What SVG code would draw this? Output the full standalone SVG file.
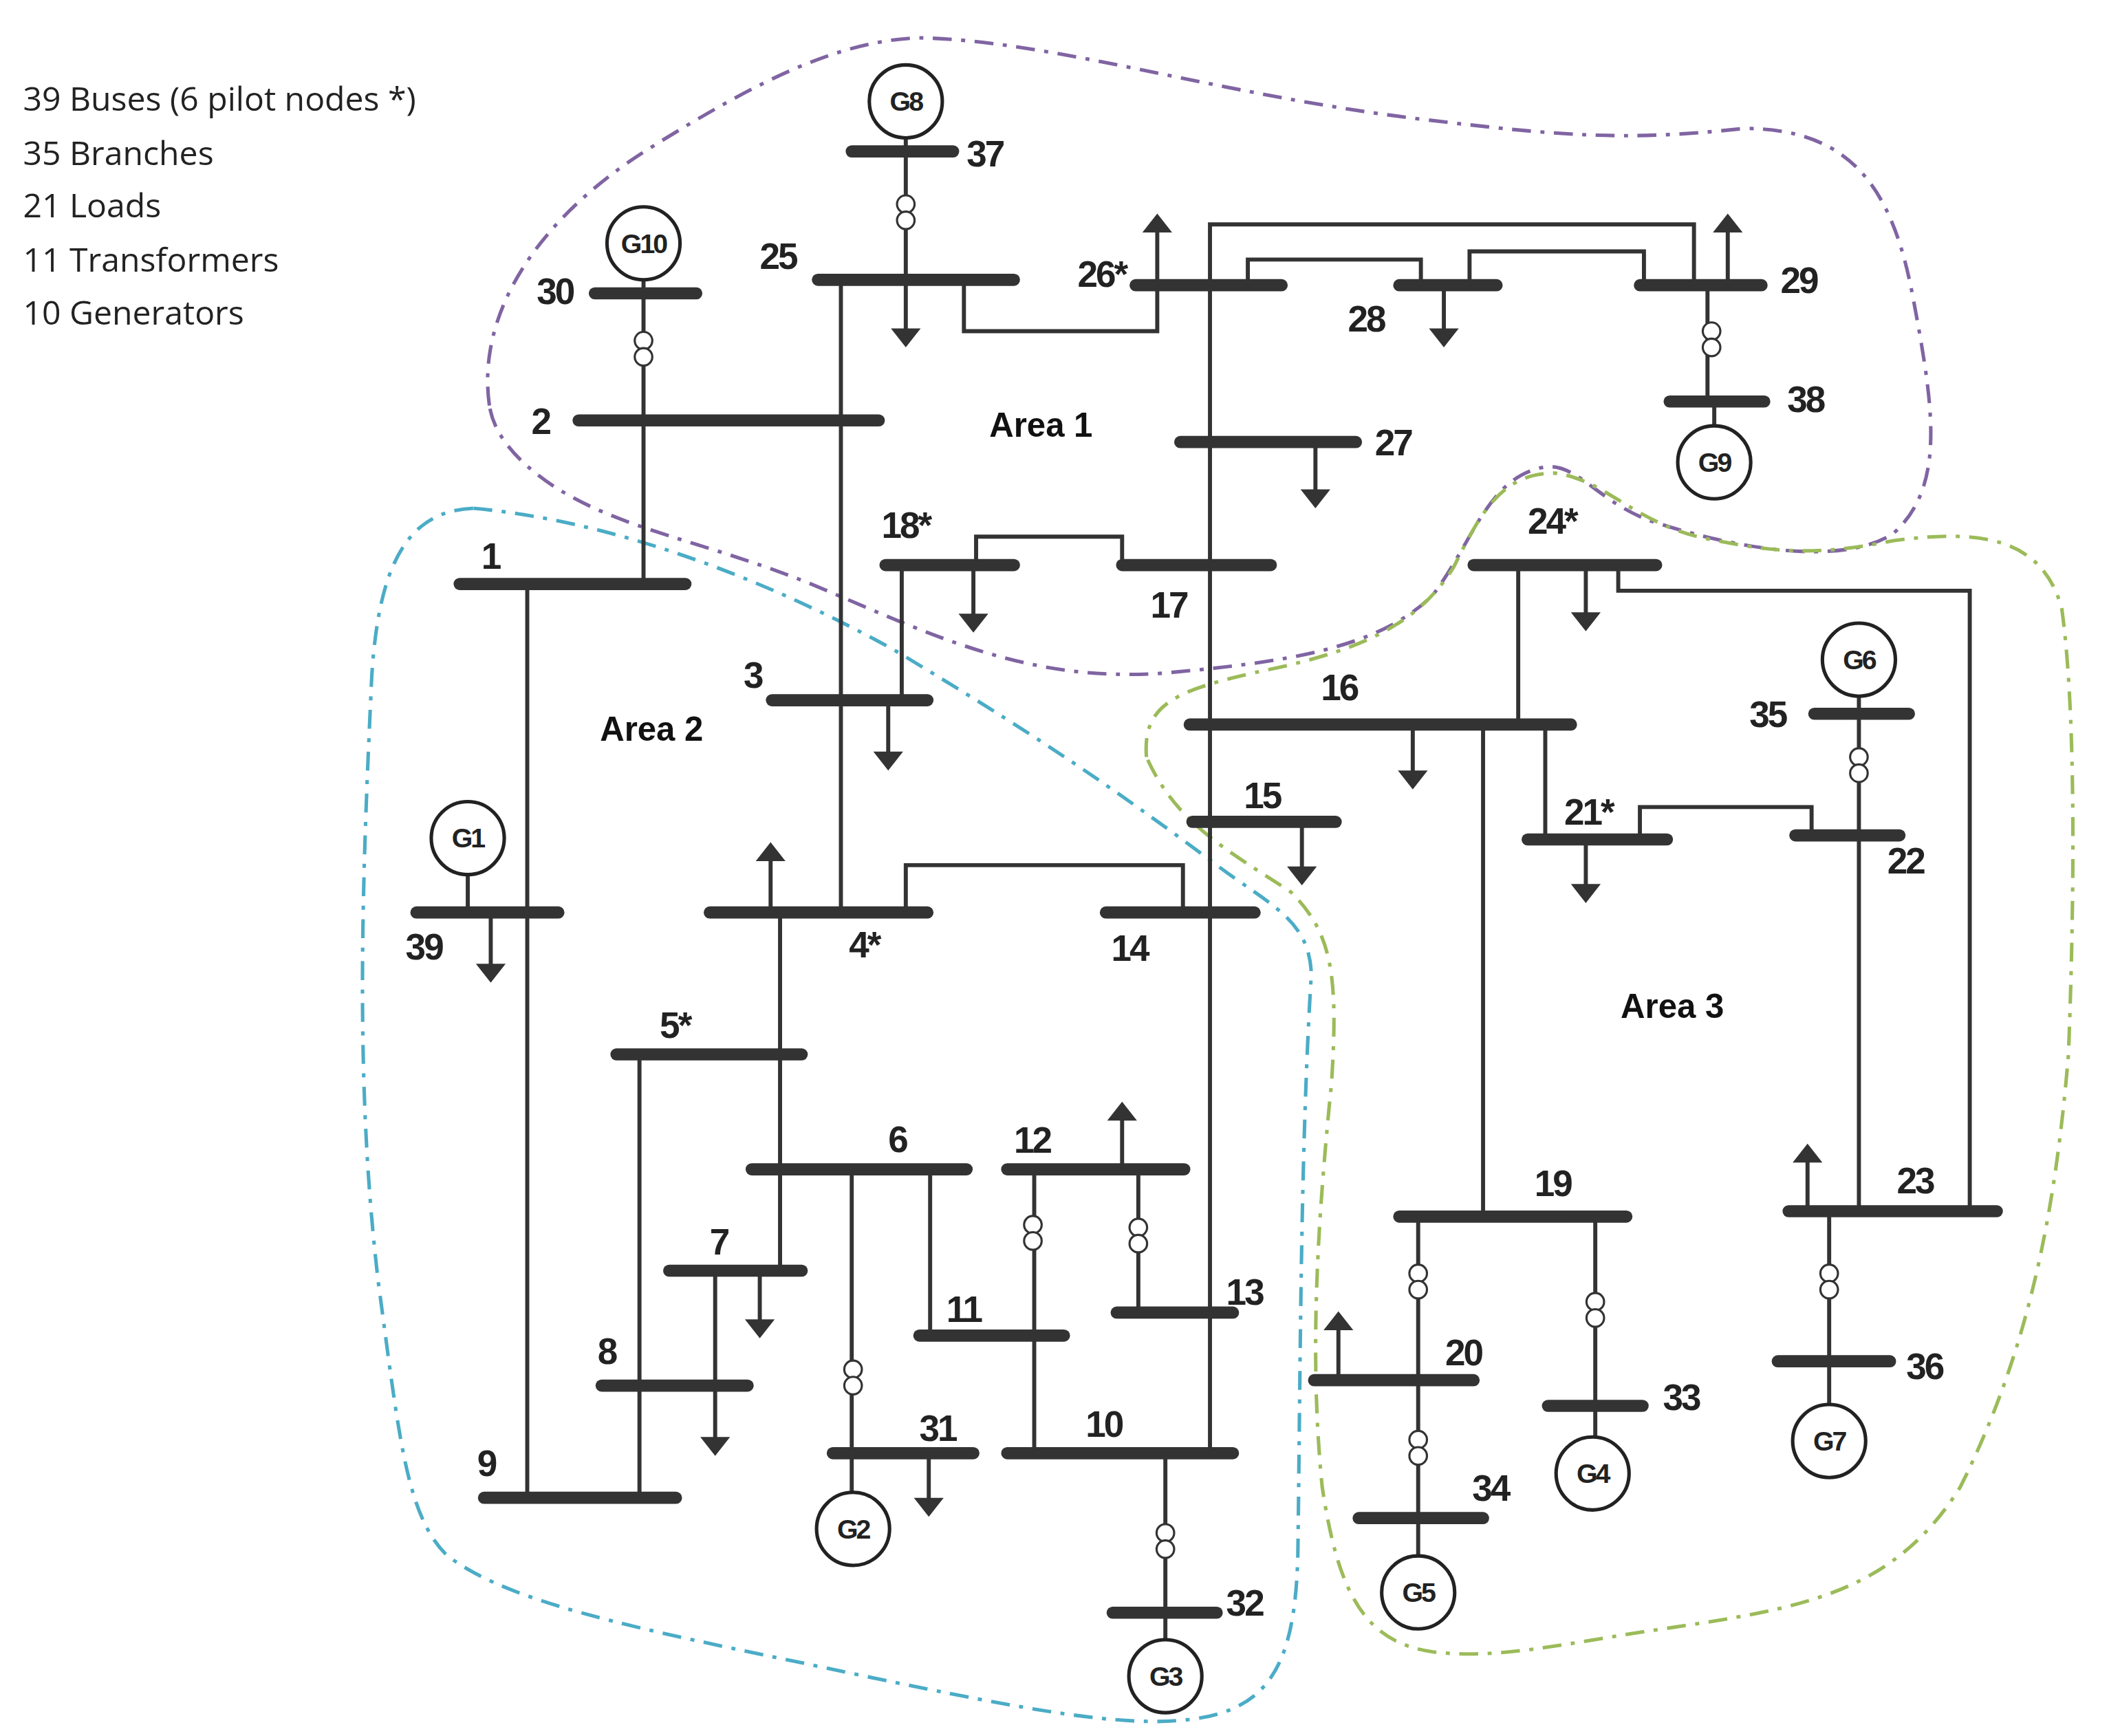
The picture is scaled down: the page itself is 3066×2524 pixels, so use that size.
<svg xmlns="http://www.w3.org/2000/svg" width="3066" height="2524" viewBox="0 0 3066 2524">
<style>
.bus{stroke:#333;stroke-width:9;stroke-linecap:round;fill:none}
.ln{stroke:#333;stroke-width:3;fill:none}
.ar{fill:#333}
.tr{stroke:#333;stroke-width:1.6;fill:#fff}
.gen{stroke:#222;stroke-width:2.6;fill:#fff}
.bl{font-family:"Liberation Sans",Arial,sans-serif;font-weight:bold;font-size:27px;fill:#222;letter-spacing:-1.5px}
.gl{font-family:"Liberation Sans",Arial,sans-serif;font-weight:bold;font-size:20px;fill:#222;text-anchor:middle;letter-spacing:-1.5px}
.al{font-family:"Liberation Sans",Arial,sans-serif;font-weight:bold;font-size:25px;fill:#111;text-anchor:middle}
.info{font-family:"Open Sans","Liberation Sans",sans-serif;font-size:24.5px;fill:#222}
.area{fill:none;stroke-width:2.6;stroke-dasharray:14 7 3 7}
</style>
<rect width="3066" height="2524" fill="#fff"/>
<g transform="scale(1.9654)">
<g id="info">
<text class="info" x="17" y="82">39 Buses (6 pilot nodes *)</text>
<text class="info" x="17" y="122">35 Branches</text>
<text class="info" x="17" y="161">21 Loads</text>
<text class="info" x="17" y="201">11 Transformers</text>
<text class="info" x="17" y="240">10 Generators</text>
</g>
<g id="areas">
<path id="area1" class="area" stroke="#8064a2" d="M362,300 C352,230 400,160 480,110 C560,60 620,30 680,28 C780,30 900,70 1050,88 C1150,100 1200,105 1290,95 C1370,95 1400,140 1415,220 C1430,300 1440,360 1400,395 C1360,420 1280,405 1220,385 C1180,370 1165,340 1140,346 C1100,355 1090,400 1060,440 C1020,480 950,490 860,498 C760,505 690,470 600,432 C520,400 460,392 410,360 C380,340 365,320 362,300 Z"/>
<path id="area2" class="area" stroke="#4bacc6" d="M350,376 C300,378 280,420 275,500 C268,650 262,800 280,950 C295,1060 300,1120 330,1150 C380,1190 500,1210 640,1240 C760,1265 830,1278 880,1272 C940,1265 958,1230 960,1150 C962,1000 962,850 970,720 C968,680 940,670 900,640 C820,580 760,540 660,480 C560,425 450,385 350,376 Z"/>
<path id="area3" class="area" stroke="#9bbb59" d="M848,560 C845,520 870,510 940,495 C1010,480 1050,460 1075,420 C1095,380 1110,350 1150,350 C1190,355 1210,390 1270,400 C1320,410 1350,410 1400,400 C1460,392 1510,395 1525,450 C1535,520 1535,650 1530,780 C1520,900 1500,1000 1450,1100 C1400,1180 1330,1190 1230,1205 C1160,1215 1110,1228 1060,1222 C1010,1215 990,1180 978,1100 C968,1000 975,900 985,800 C990,720 985,690 955,660 C910,630 870,610 848,560 Z"/>
<text class="al" x="770" y="323">Area  1</text>
<text class="al" x="482" y="548">Area  2</text>
<text class="al" x="1237" y="753">Area  3</text>
</g>
<g id="connectors">
<path class="ln" d="M670,102V207 M476,207V432 M622,207V675 M713,207V245H856V211 M390,432V1108 M346,647V675"/>
<path class="ln" d="M895,211V166H1253V211 M895,166V1075 M923,211V192H1051V211 M1087,211V186H1216V211 M1263,211V297 M1268,297V315"/>
<path class="ln" d="M722,418V397H830V418 M667,418V518 M1123,418V536 M1197,418V437H1457V896 M1097,536V900 M1143,536V621 M1213,621V597H1340V618 M1375,515V896"/>
<path class="ln" d="M670,675V640H875V675 M577,675V940 M473,780V1108 M529,940V1025 M630,865V1104 M688,865V988 M765,865V1075 M842,865V971 M862,1075V1213"/>
<path class="ln" d="M1049,900V1151 M1180,900V1063 M1353,896V1039"/>
<g id="transformers">
<circle class="tr" cx="670" cy="151" r="6.5"/><circle class="tr" cx="670" cy="163" r="6.5"/>
<circle class="tr" cx="476" cy="252" r="6.5"/><circle class="tr" cx="476" cy="264" r="6.5"/>
<circle class="tr" cx="1266" cy="245" r="6.5"/><circle class="tr" cx="1266" cy="257" r="6.5"/>
<circle class="tr" cx="1375" cy="560" r="6.5"/><circle class="tr" cx="1375" cy="572" r="6.5"/>
<circle class="tr" cx="631" cy="1013" r="6.5"/><circle class="tr" cx="631" cy="1025" r="6.5"/>
<circle class="tr" cx="764" cy="906" r="6.5"/><circle class="tr" cx="764" cy="918" r="6.5"/>
<circle class="tr" cx="842" cy="908" r="6.5"/><circle class="tr" cx="842" cy="920" r="6.5"/>
<circle class="tr" cx="862" cy="1134" r="6.5"/><circle class="tr" cx="862" cy="1146" r="6.5"/>
<circle class="tr" cx="1049" cy="942" r="6.5"/><circle class="tr" cx="1049" cy="954" r="6.5"/>
<circle class="tr" cx="1049" cy="1065" r="6.5"/><circle class="tr" cx="1049" cy="1077" r="6.5"/>
<circle class="tr" cx="1180" cy="963" r="6.5"/><circle class="tr" cx="1180" cy="975" r="6.5"/>
<circle class="tr" cx="1353" cy="942" r="6.5"/><circle class="tr" cx="1353" cy="954" r="6.5"/>
</g>
<g id="loads">
<path class="ln" d="M670,207V245 M1068,211V245 M973,327V364 M720,418V456 M657,518V558 M1173,418V455 M1045,536V572 M963,608V643 M1173,621V656 M363,675V715 M562,940V978 M529,1025V1065 M687,1075V1110"/>
<path class="ar" d="M659,243H681L670,257Z M1057,243H1079L1068,257Z M962,362H984L973,376Z M709,454H731L720,468Z M646,556H668L657,570Z M1162,453H1184L1173,467Z M1034,570H1056L1045,584Z M952,641H974L963,655Z M1162,654H1184L1173,668Z M352,713H374L363,727Z M551,976H573L562,990Z M518,1063H540L529,1077Z M676,1108H698L687,1122Z"/>
<path class="ln" d="M856,211V170 M1278,211V170 M570,675V635 M830,865V827 M990,1021V982 M1337,896V858"/>
<path class="ar" d="M845,172H867L856,158Z M1267,172H1289L1278,158Z M559,637H581L570,623Z M819,829H841L830,815Z M979,984H1001L990,970Z M1326,860H1348L1337,846Z"/>
</g>
</g>
<g id="bus1"><line class="bus" x1="340" y1="432" x2="507" y2="432"/><text class="bl" x="356" y="421">1</text></g>
<g id="bus2"><line class="bus" x1="428" y1="311" x2="650" y2="311"/><text class="bl" x="393" y="321">2</text></g>
<g id="bus3"><line class="bus" x1="571" y1="518" x2="686" y2="518"/><text class="bl" x="550" y="509">3</text></g>
<g id="bus4"><line class="bus" x1="525" y1="675" x2="686" y2="675"/><text class="bl" x="628" y="708">4*</text></g>
<g id="bus5"><line class="bus" x1="456" y1="780" x2="593" y2="780"/><text class="bl" x="488" y="768">5*</text></g>
<g id="bus6"><line class="bus" x1="556" y1="865" x2="715" y2="865"/><text class="bl" x="657" y="852">6</text></g>
<g id="bus7"><line class="bus" x1="495" y1="940" x2="593" y2="940"/><text class="bl" x="525" y="928">7</text></g>
<g id="bus8"><line class="bus" x1="445" y1="1025" x2="553" y2="1025"/><text class="bl" x="442" y="1009">8</text></g>
<g id="bus9"><line class="bus" x1="358" y1="1108" x2="500" y2="1108"/><text class="bl" x="353" y="1092">9</text></g>
<g id="bus10"><line class="bus" x1="745" y1="1075" x2="912" y2="1075"/><text class="bl" x="803" y="1063">10</text></g>
<g id="bus11"><line class="bus" x1="680" y1="988" x2="787" y2="988"/><text class="bl" x="700" y="978">11</text></g>
<g id="bus12"><line class="bus" x1="745" y1="865" x2="876" y2="865"/><text class="bl" x="750" y="853">12</text></g>
<g id="bus13"><line class="bus" x1="826" y1="971" x2="912" y2="971"/><text class="bl" x="907" y="965">13</text></g>
<g id="bus14"><line class="bus" x1="818" y1="675" x2="928" y2="675"/><text class="bl" x="822" y="711">14</text></g>
<g id="bus15"><line class="bus" x1="882" y1="608" x2="988" y2="608"/><text class="bl" x="920" y="598">15</text></g>
<g id="bus16"><line class="bus" x1="880" y1="536" x2="1162" y2="536"/><text class="bl" x="977" y="518">16</text></g>
<g id="bus17"><line class="bus" x1="830" y1="418" x2="940" y2="418"/><text class="bl" x="851" y="457">17</text></g>
<g id="bus18"><line class="bus" x1="655" y1="418" x2="750" y2="418"/><text class="bl" x="652" y="398">18*</text></g>
<g id="bus19"><line class="bus" x1="1035" y1="900" x2="1203" y2="900"/><text class="bl" x="1135" y="885">19</text></g>
<g id="bus20"><line class="bus" x1="972" y1="1021" x2="1090" y2="1021"/><text class="bl" x="1069" y="1010">20</text></g>
<g id="bus21"><line class="bus" x1="1130" y1="621" x2="1233" y2="621"/><text class="bl" x="1157" y="610">21*</text></g>
<g id="bus22"><line class="bus" x1="1328" y1="618" x2="1405" y2="618"/><text class="bl" x="1396" y="646">22</text></g>
<g id="bus23"><line class="bus" x1="1323" y1="896" x2="1477" y2="896"/><text class="bl" x="1403" y="883">23</text></g>
<g id="bus24"><line class="bus" x1="1090" y1="418" x2="1225" y2="418"/><text class="bl" x="1130" y="395">24*</text></g>
<g id="bus25"><line class="bus" x1="605" y1="207" x2="750" y2="207"/><text class="bl" x="562" y="199">25</text></g>
<g id="bus26"><line class="bus" x1="840" y1="211" x2="948" y2="211"/><text class="bl" x="797" y="212">26*</text></g>
<g id="bus27"><line class="bus" x1="873" y1="327" x2="1003" y2="327"/><text class="bl" x="1017" y="337">27</text></g>
<g id="bus28"><line class="bus" x1="1035" y1="211" x2="1107" y2="211"/><text class="bl" x="997" y="245">28</text></g>
<g id="bus29"><line class="bus" x1="1213" y1="211" x2="1303" y2="211"/><text class="bl" x="1317" y="217">29</text></g>
<g id="bus30"><line class="bus" x1="440" y1="217" x2="515" y2="217"/><text class="bl" x="397" y="225">30</text></g>
<g id="bus31"><line class="bus" x1="616" y1="1075" x2="720" y2="1075"/><text class="bl" x="680" y="1066">31</text></g>
<g id="bus32"><line class="bus" x1="823" y1="1193" x2="900" y2="1193"/><text class="bl" x="907" y="1195">32</text></g>
<g id="bus33"><line class="bus" x1="1145" y1="1040" x2="1215" y2="1040"/><text class="bl" x="1230" y="1043">33</text></g>
<g id="bus34"><line class="bus" x1="1005" y1="1123" x2="1097" y2="1123"/><text class="bl" x="1089" y="1110">34</text></g>
<g id="bus35"><line class="bus" x1="1342" y1="528" x2="1412" y2="528"/><text class="bl" x="1294" y="538">35</text></g>
<g id="bus36"><line class="bus" x1="1315" y1="1007" x2="1398" y2="1007"/><text class="bl" x="1410" y="1020">36</text></g>
<g id="bus37"><line class="bus" x1="630" y1="112" x2="705" y2="112"/><text class="bl" x="715" y="123">37</text></g>
<g id="bus38"><line class="bus" x1="1235" y1="297" x2="1305" y2="297"/><text class="bl" x="1322" y="305">38</text></g>
<g id="bus39"><line class="bus" x1="308" y1="675" x2="413" y2="675"/><text class="bl" x="300" y="710">39</text></g>
<g id="G1"><circle class="gen" cx="346" cy="620" r="27"/><text class="gl" x="346" y="627">G1</text></g>
<g id="G2"><circle class="gen" cx="631" cy="1131" r="27"/><text class="gl" x="631" y="1138">G2</text></g>
<g id="G3"><circle class="gen" cx="862" cy="1240" r="27"/><text class="gl" x="862" y="1247">G3</text></g>
<g id="G4"><circle class="gen" cx="1178" cy="1090" r="27"/><text class="gl" x="1178" y="1097">G4</text></g>
<g id="G5"><circle class="gen" cx="1049" cy="1178" r="27"/><text class="gl" x="1049" y="1185">G5</text></g>
<g id="G6"><circle class="gen" cx="1375" cy="488" r="27"/><text class="gl" x="1375" y="495">G6</text></g>
<g id="G7"><circle class="gen" cx="1353" cy="1066" r="27"/><text class="gl" x="1353" y="1073">G7</text></g>
<g id="G8"><circle class="gen" cx="670" cy="75" r="27"/><text class="gl" x="670" y="82">G8</text></g>
<g id="G9"><circle class="gen" cx="1268" cy="342" r="27"/><text class="gl" x="1268" y="349">G9</text></g>
<g id="G10"><circle class="gen" cx="476" cy="180" r="27"/><text class="gl" x="476" y="187">G10</text></g>
</g>
</svg>
